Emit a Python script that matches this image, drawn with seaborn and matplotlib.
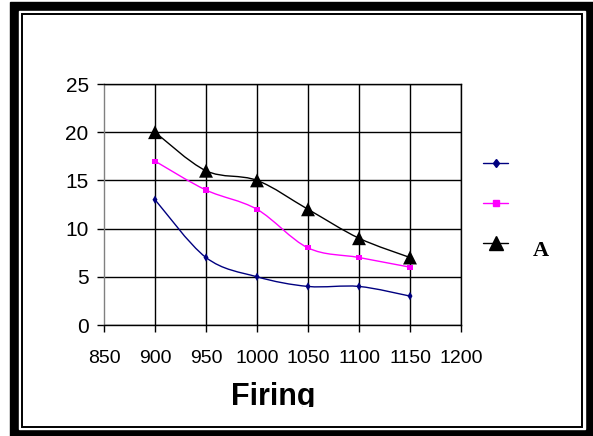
import numpy as np
import pandas as pd
import seaborn as sns
import matplotlib.pyplot as plt
from matplotlib.path import Path
from matplotlib.patches import PathPatch, Rectangle
from matplotlib.lines import Line2D
from matplotlib.transforms import Bbox

# data
firing = [900, 950, 1000, 1050, 1100, 1150]
series_1 = [13, 7, 5, 4, 4, 3]
series_2 = [17, 14, 12, 8, 7, 6]
series_a = [20, 16, 15, 12, 9, 7]
series_names = ['s1', 's2', 'A']
legend_labels = ['', '', 'A']
x_ticks = [850, 900, 950, 1000, 1050, 1100, 1150, 1200]
y_ticks = [0, 5, 10, 15, 20, 25]

W, H = 593, 436
colors = {'s1': '#000080', 's2': '#FF00FF', 'A': 'black'}
markers = {'s1': 'd', 's2': 's', 'A': '^'}
sizes = {'s1': 18, 's2': 14, 'A': 100}


def px(x0, y0, x1, y1):
    # pixel box (top-left origin) -> figure fraction rect
    return [x0 / W, 1 - y1 / H, (x1 - x0) / W, (y1 - y0) / H]


def smooth_path(xs, ys):
    # excel-like smoothed line: catmull-rom segments as cubic beziers
    pts = np.column_stack([xs, ys]).astype(float)
    padded = np.vstack([pts[0], pts, pts[-1]])
    verts = [pts[0]]
    codes = [Path.MOVETO]
    for i in range(len(pts) - 1):
        p0, p1, p2, p3 = padded[i], padded[i + 1], padded[i + 2], padded[i + 3]
        verts += [p1 + (p2 - p0) / 6, p2 - (p3 - p1) / 6, p2]
        codes += [Path.CURVE4] * 3
    return Path(verts, codes)


sns.set_style('white')
plt.rcParams['font.family'] = ['Liberation Sans', 'DejaVu Sans']
plt.rcParams['text.color'] = 'black'
plt.rcParams['xtick.color'] = 'black'
plt.rcParams['ytick.color'] = 'black'

fig = plt.figure(figsize=(W / 100, H / 100), dpi=100)

# double frame round the chart
fig.patches.append(Rectangle(px(10, 2, 593, 436)[:2], *px(10, 2, 593, 436)[2:],
                             transform=fig.transFigure, color='black', zorder=-3))
fig.patches.append(Rectangle(px(19, 11, 585, 429)[:2], *px(19, 11, 585, 429)[2:],
                             transform=fig.transFigure, color='white', zorder=-2))
fig.patches.append(Rectangle(px(22, 14, 582, 427)[:2], *px(22, 14, 582, 427)[2:],
                             transform=fig.transFigure, facecolor='none',
                             edgecolor='black', linewidth=1.4, zorder=-1))

ax = fig.add_axes(px(104, 84, 461, 325))

df = pd.DataFrame({
    'firing': firing * 3,
    'value': series_1 + series_2 + series_a,
    'series': [n for n in series_names for _ in firing],
})

for name, vals in zip(series_names, [series_1, series_2, series_a]):
    ax.add_patch(PathPatch(smooth_path(firing, vals), fill=False,
                           edgecolor=colors[name], linewidth=1.0, zorder=3))

sns.scatterplot(data=df, x='firing', y='value', hue='series', style='series',
                size='series', palette=colors, markers=markers, sizes=sizes,
                linewidth=0, legend=False, ax=ax, zorder=4)

ax.set_xlim(850, 1200)
ax.set_ylim(0, 25)
ax.set_xticks(x_ticks)
ax.set_yticks(y_ticks)
ax.set_xlabel('')
ax.set_ylabel('')
ax.grid(True, color='black', linewidth=1.0)
ax.tick_params(axis='both', direction='out', length=5, width=1, color='black',
               labelcolor='black', bottom=True, left=True)
ax.tick_params(axis='x', pad=13, labelsize=14)
ax.tick_params(axis='y', pad=6, labelsize=15)
for s in ax.spines.values():
    s.set_color('black')
    s.set_linewidth(1.0)
ax.spines['left'].set_color('#808080')
ax.get_xgridlines()[0].set_visible(False)

handles = [Line2D([], [], color=colors[n], marker=markers[n], linewidth=1.0,
                  markersize={'s1': 4.5, 's2': 4, 'A': 10}[n]) for n in series_names]
fig.legend(handles, [' ', ' ', ' '], loc='upper left',
           bbox_to_anchor=(483 / W, 1 - 157 / H), frameon=False, fontsize=10,
           handlelength=1.8, labelspacing=1.85, borderpad=0, borderaxespad=0)
fig.text(541 / W, 1 - 251 / H, legend_labels[2], family='Liberation Serif',
         fontweight='bold', fontsize=16, ha='center', va='center', color='black')

title = fig.text(273 / W, 1 - 405 / H, 'Firing', fontweight='bold', fontsize=22,
                 ha='center', va='baseline', color='black')
title.set_clip_box(Bbox([[0, H - 407], [W, H]]))
title.set_clip_on(True)

fig.savefig('out.png', dpi=100)
